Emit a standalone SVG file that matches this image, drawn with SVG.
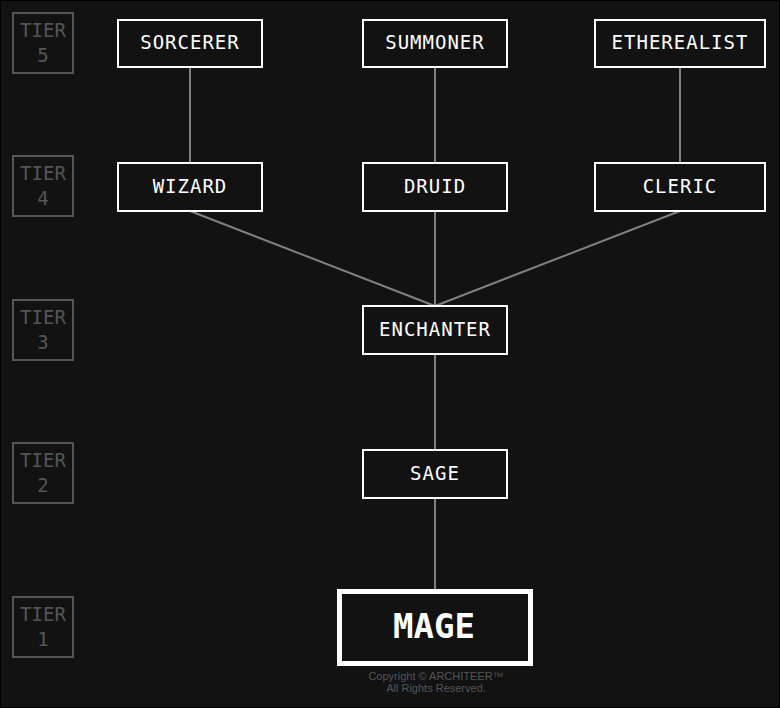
<svg xmlns="http://www.w3.org/2000/svg" width="780" height="708" viewBox="0 0 780 708">
<style>
.tier rect{fill:none;stroke:#555;stroke-width:2}
.tier text{font-family:"DejaVu Sans Mono",monospace;font-size:19px;fill:#555;text-anchor:middle}
.node rect{fill:#121212;stroke:#fff;stroke-width:2}
.node text{font-family:"DejaVu Sans Mono",monospace;font-size:19px;fill:#fff;text-anchor:middle;letter-spacing:1px}
#connectors line{stroke:#808080;stroke-width:2}
.copy{font-family:"Liberation Sans",Arial,sans-serif;font-size:11px;fill:#555;text-anchor:middle}
</style>
<rect x="0.5" y="0.5" width="779" height="707" fill="#121212" stroke="#000" stroke-width="1"/>
<g id="tiers">
<g id="tier5" class="tier"><rect x="13" y="13" width="60" height="60"/><text x="43" y="37">TIER</text><text x="43" y="62">5</text></g>
<g id="tier4" class="tier"><rect x="13" y="156" width="60" height="60"/><text x="43" y="180">TIER</text><text x="43" y="205">4</text></g>
<g id="tier3" class="tier"><rect x="13" y="300" width="60" height="60"/><text x="43" y="324">TIER</text><text x="43" y="349">3</text></g>
<g id="tier2" class="tier"><rect x="13" y="443" width="60" height="60"/><text x="43" y="467">TIER</text><text x="43" y="492">2</text></g>
<g id="tier1" class="tier"><rect x="13" y="597" width="60" height="60"/><text x="43" y="621">TIER</text><text x="43" y="646">1</text></g>
</g>
<g id="connectors">
<line x1="190" y1="67" x2="190" y2="162"/>
<line x1="435" y1="67" x2="435" y2="162"/>
<line x1="680" y1="67" x2="680" y2="162"/>
<line x1="190" y1="211" x2="435" y2="306"/>
<line x1="435" y1="211" x2="435" y2="306"/>
<line x1="680" y1="211" x2="435" y2="306"/>
<line x1="435" y1="354" x2="435" y2="450"/>
<line x1="435" y1="498" x2="435" y2="590"/>
</g>
<g id="sorcerer" class="node"><rect x="118" y="20" width="144" height="47"/><text x="190" y="49">SORCERER</text></g>
<g id="summoner" class="node"><rect x="363" y="20" width="144" height="47"/><text x="435" y="49">SUMMONER</text></g>
<g id="etherealist" class="node"><rect x="595" y="20" width="170" height="47"/><text x="680" y="49">ETHEREALIST</text></g>
<g id="wizard" class="node"><rect x="118" y="163" width="144" height="48"/><text x="190" y="193">WIZARD</text></g>
<g id="druid" class="node"><rect x="363" y="163" width="144" height="48"/><text x="435" y="193">DRUID</text></g>
<g id="cleric" class="node"><rect x="595" y="163" width="170" height="48"/><text x="680" y="193">CLERIC</text></g>
<g id="enchanter" class="node"><rect x="363" y="306" width="144" height="48"/><text x="435" y="336">ENCHANTER</text></g>
<g id="sage" class="node"><rect x="363" y="450" width="144" height="48"/><text x="435" y="480">SAGE</text></g>
<g id="mage" class="node"><rect x="339.5" y="591.5" width="191" height="72" style="stroke-width:5"/><text x="434" y="638" style="font-size:34px;letter-spacing:0;font-weight:bold">MAGE</text></g>
<text class="copy" x="436" y="680">Copyright © ARCHITEER™</text>
<text class="copy" x="436" y="692">All Rights Reserved.</text>
</svg>
